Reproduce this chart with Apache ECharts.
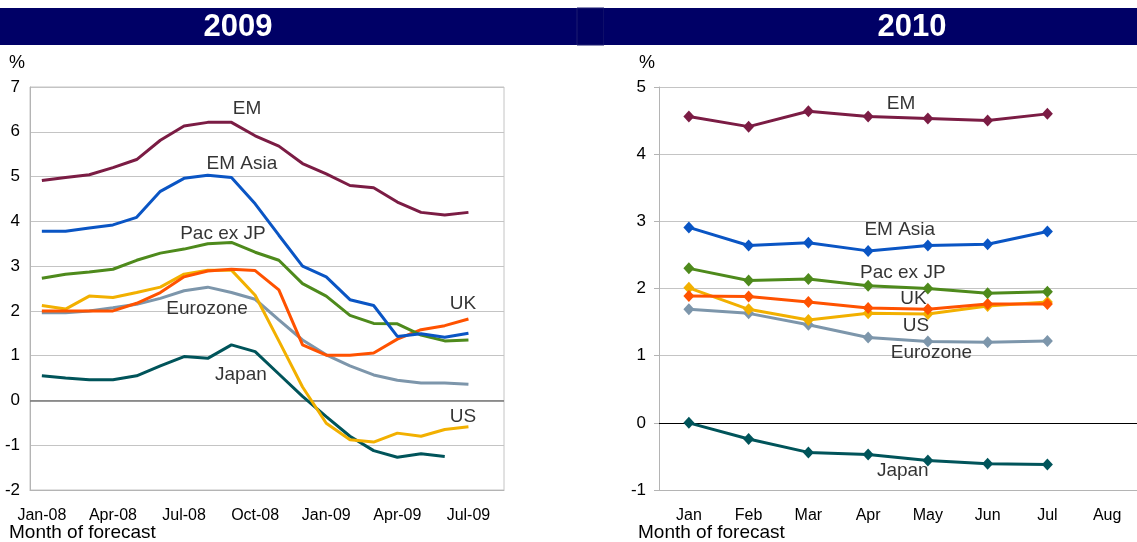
<!DOCTYPE html>
<html><head><meta charset="utf-8">
<script src="https://cdn.jsdelivr.net/npm/echarts@6/dist/echarts.min.js"></script>
<style>html,body{margin:0;padding:0;background:#fff}#c{width:1137px;height:542px}</style>
</head><body><div id="c"></div><script>
// ---- categories ----
const months09 = ['Jan-08','Feb-08','Mar-08','Apr-08','May-08','Jun-08','Jul-08','Aug-08','Sep-08','Oct-08','Nov-08','Dec-08','Jan-09','Feb-09','Mar-09','Apr-09','May-09','Jun-09','Jul-09','Aug-09'];
const months10 = ['Jan','Feb','Mar','Apr','May','Jun','Jul','Aug'];
const names = ['EM','EM Asia','Pac ex JP','UK','US','Eurozone','Japan'];
const colors = ['#7b1c44','#0a55c4','#4e8a1c','#ff5200','#f2b000','#7d96ab','#00545a'];

// ---- 2009 forecasts (by month of forecast) ----
const em09   = [4.91,4.98,5.04,5.20,5.38,5.81,6.13,6.21,6.21,5.91,5.68,5.29,5.06,4.80,4.75,4.43,4.20,4.14,4.20,null];
const asia09 = [3.78,3.78,3.85,3.92,4.09,4.67,4.96,5.03,4.98,4.39,3.69,3.00,2.76,2.25,2.12,1.43,1.49,1.41,1.50,null];
const pac09  = [2.73,2.82,2.87,2.93,3.13,3.29,3.38,3.50,3.53,3.31,3.13,2.61,2.33,1.90,1.72,1.71,1.46,1.33,1.35,null];
const uk09   = [2.00,2.00,2.00,2.00,2.17,2.41,2.76,2.89,2.93,2.90,2.47,1.24,1.01,1.01,1.06,1.37,1.58,1.67,1.82,null];
const us09   = [2.12,2.04,2.33,2.30,2.41,2.53,2.82,2.91,2.91,2.35,1.33,0.30,-0.51,-0.88,-0.93,-0.73,-0.80,-0.65,-0.59,null];
const ez09   = [1.96,1.96,2.00,2.07,2.15,2.28,2.45,2.53,2.41,2.26,1.80,1.35,1.02,0.77,0.57,0.45,0.39,0.39,0.36,null];
const jp09   = [0.55,0.50,0.46,0.46,0.55,0.77,0.98,0.94,1.24,1.09,0.59,0.09,-0.36,-0.80,-1.12,-1.27,-1.19,-1.25,null,null];

// ---- 2010 forecasts ----
const em10   = [4.56,4.41,4.64,4.56,4.53,4.50,4.60,null];
const asia10 = [2.91,2.64,2.68,2.56,2.64,2.66,2.85,null];
const pac10  = [2.30,2.12,2.14,2.04,2.00,1.93,1.95,null];
const uk10   = [1.89,1.88,1.80,1.71,1.69,1.77,1.77,null];
const us10   = [2.01,1.69,1.53,1.63,1.62,1.74,1.80,null];
const ez10   = [1.69,1.63,1.46,1.27,1.21,1.20,1.22,null];
const jp10   = [0.00,-0.24,-0.44,-0.47,-0.56,-0.61,-0.62,null];

// ---- tick labels ----
const yTicks09 = [-2,-1,0,1,2,3,4,5,6,7];
const yTicks10 = [-1,0,1,2,3,4,5];

// ---- in-chart series labels [x index, value] ----
const labelPos09 = [[8.66,6.51],[8.44,5.28],[7.64,3.72],[17.77,2.16],[17.77,-0.37],[6.97,2.04],[8.40,0.57]];
const labelPos10 = [[3.55,4.75],[3.53,2.87],[3.58,2.24],[3.76,1.84],[3.80,1.44],[4.06,1.04],[3.58,-0.71]];

const data09 = [em09,asia09,pac09,uk09,us09,ez09,jp09];
const data10 = [em10,asia10,pac10,uk10,us10,ez10,jp10];

const FONT = "'Liberation Sans', Arial, sans-serif";
const chart = echarts.init(document.getElementById('c'), null, {renderer:'canvas'});

const series = [];
data09.forEach((d,i)=>{
  const s = {type:'line', name:names[i]+' 2009', xAxisIndex:0, yAxisIndex:0, data:d,
    symbol:'none', smooth:false, lineStyle:{width:3, color:colors[i]}, itemStyle:{color:colors[i]},
    z: 10-i, silent:true, animation:false};
  if(i===0){ s.markLine = {silent:true, symbol:'none', label:{show:false},
    lineStyle:{color:'#777', width:1.5, type:'solid'}, data:[{yAxis:0}], z:1, animation:false}; }
  series.push(s);
});
data10.forEach((d,i)=>{
  const s = {type:'line', name:names[i]+' 2010', xAxisIndex:1, yAxisIndex:1, data:d,
    symbol:'diamond', symbolSize:[11,12], showAllSymbol:true, lineStyle:{width:3, color:colors[i]},
    itemStyle:{color:colors[i]}, z: 10-i, silent:true, animation:false};
  if(i===0){ s.markLine = {silent:true, symbol:'none', label:{show:false},
    lineStyle:{color:'#000', width:1, type:'solid'}, data:[{yAxis:0}], z:1, animation:false}; }
  series.push(s);
});
const lblStyle = {show:true, position:'inside', formatter:p=>p.name, color:'#000', fontSize:19, fontFamily:FONT};
series.push({type:'scatter', xAxisIndex:2, yAxisIndex:0, symbolSize:1, itemStyle:{color:'rgba(0,0,0,0)'},
  data: labelPos09.map((p,i)=>({value:p, name:names[i]})), silent:true, animation:false, z:20, label:lblStyle});
series.push({type:'scatter', xAxisIndex:3, yAxisIndex:1, symbolSize:1, itemStyle:{color:'rgba(0,0,0,0)'},
  data: labelPos10.map((p,i)=>({value:p, name:names[i]})), silent:true, animation:false, z:20, label:lblStyle});

const gridLine = {show:true, lineStyle:{color:'#c4c4c4', width:1}};
const txt = (s,x,y,size,align)=>({type:'text', x:x, y:y, silent:true,
  style:{text:s, fill:'#000', font:size+"px 'Liberation Sans', Arial, sans-serif", textAlign:align||'left', textVerticalAlign:'middle'}});
chart.setOption({
  animation:false,
  backgroundColor:'#fff',
  textStyle:{fontFamily:FONT},
  grid:[
    {left:30, top:87, width:474, height:403, show:true, borderColor:'#c4c4c4', borderWidth:1, containLabel:false},
    {left:659, top:87, width:485, height:403, show:false, containLabel:false}
  ],
  xAxis:[
    {type:'category', gridIndex:0, data:months09, boundaryGap:true,
      axisLine:{show:true, onZero:false, lineStyle:{color:'#b4b4b4'}}, axisTick:{show:false},
      axisLabel:{interval:2, color:'#000', fontSize:16, margin:18, fontFamily:FONT}, splitLine:{show:false}},
    {type:'category', gridIndex:1, data:months10, boundaryGap:true,
      axisLine:{show:true, onZero:false, lineStyle:{color:'#b4b4b4'}}, axisTick:{show:false},
      axisLabel:{interval:0, color:'#000', fontSize:16, margin:18, fontFamily:FONT}, splitLine:{show:false}},
    {type:'value', gridIndex:0, min:-0.5, max:19.5, show:false},
    {type:'value', gridIndex:1, min:-0.5, max:7.5, show:false}
  ],
  yAxis:[
    {type:'value', gridIndex:0, min:yTicks09[0], max:yTicks09[yTicks09.length-1], interval:1,
      axisLine:{show:true, onZero:false, lineStyle:{color:'#b4b4b4'}}, axisTick:{show:false},
      axisLabel:{color:'#000', fontSize:17, margin:10, fontFamily:FONT}, splitLine:gridLine},
    {type:'value', gridIndex:1, min:yTicks10[0], max:yTicks10[yTicks10.length-1], interval:1,
      axisLine:{show:true, onZero:false, lineStyle:{color:'#b4b4b4'}}, axisTick:{show:true, length:5, lineStyle:{color:'#b4b4b4'}},
      axisLabel:{color:'#000', fontSize:17, margin:13, fontFamily:FONT}, splitLine:gridLine}
  ],
  graphic:[
    {type:'rect', shape:{x:0, y:8, width:577, height:37}, style:{fill:'#000066'}, silent:true},
    {type:'rect', shape:{x:577, y:8, width:27, height:37}, style:{fill:'#000062', stroke:'#1c1c70', lineWidth:1}, silent:true},
    {type:'rect', shape:{x:604, y:8, width:533, height:37}, style:{fill:'#000066'}, silent:true},
    {type:'text', x:238, y:27, style:{text:'2009', fill:'#fff', font:"bold 31px 'Liberation Sans', Arial, sans-serif", textAlign:'center', textVerticalAlign:'middle'}, silent:true},
    {type:'text', x:912, y:27, style:{text:'2010', fill:'#fff', font:"bold 31px 'Liberation Sans', Arial, sans-serif", textAlign:'center', textVerticalAlign:'middle'}, silent:true},
    txt('%',9,63,18), txt('%',639,63,18),
    txt('Month of forecast',9,533,19), txt('Month of forecast',638,533,19)
  ],
  series: series
});
</script></body></html>
